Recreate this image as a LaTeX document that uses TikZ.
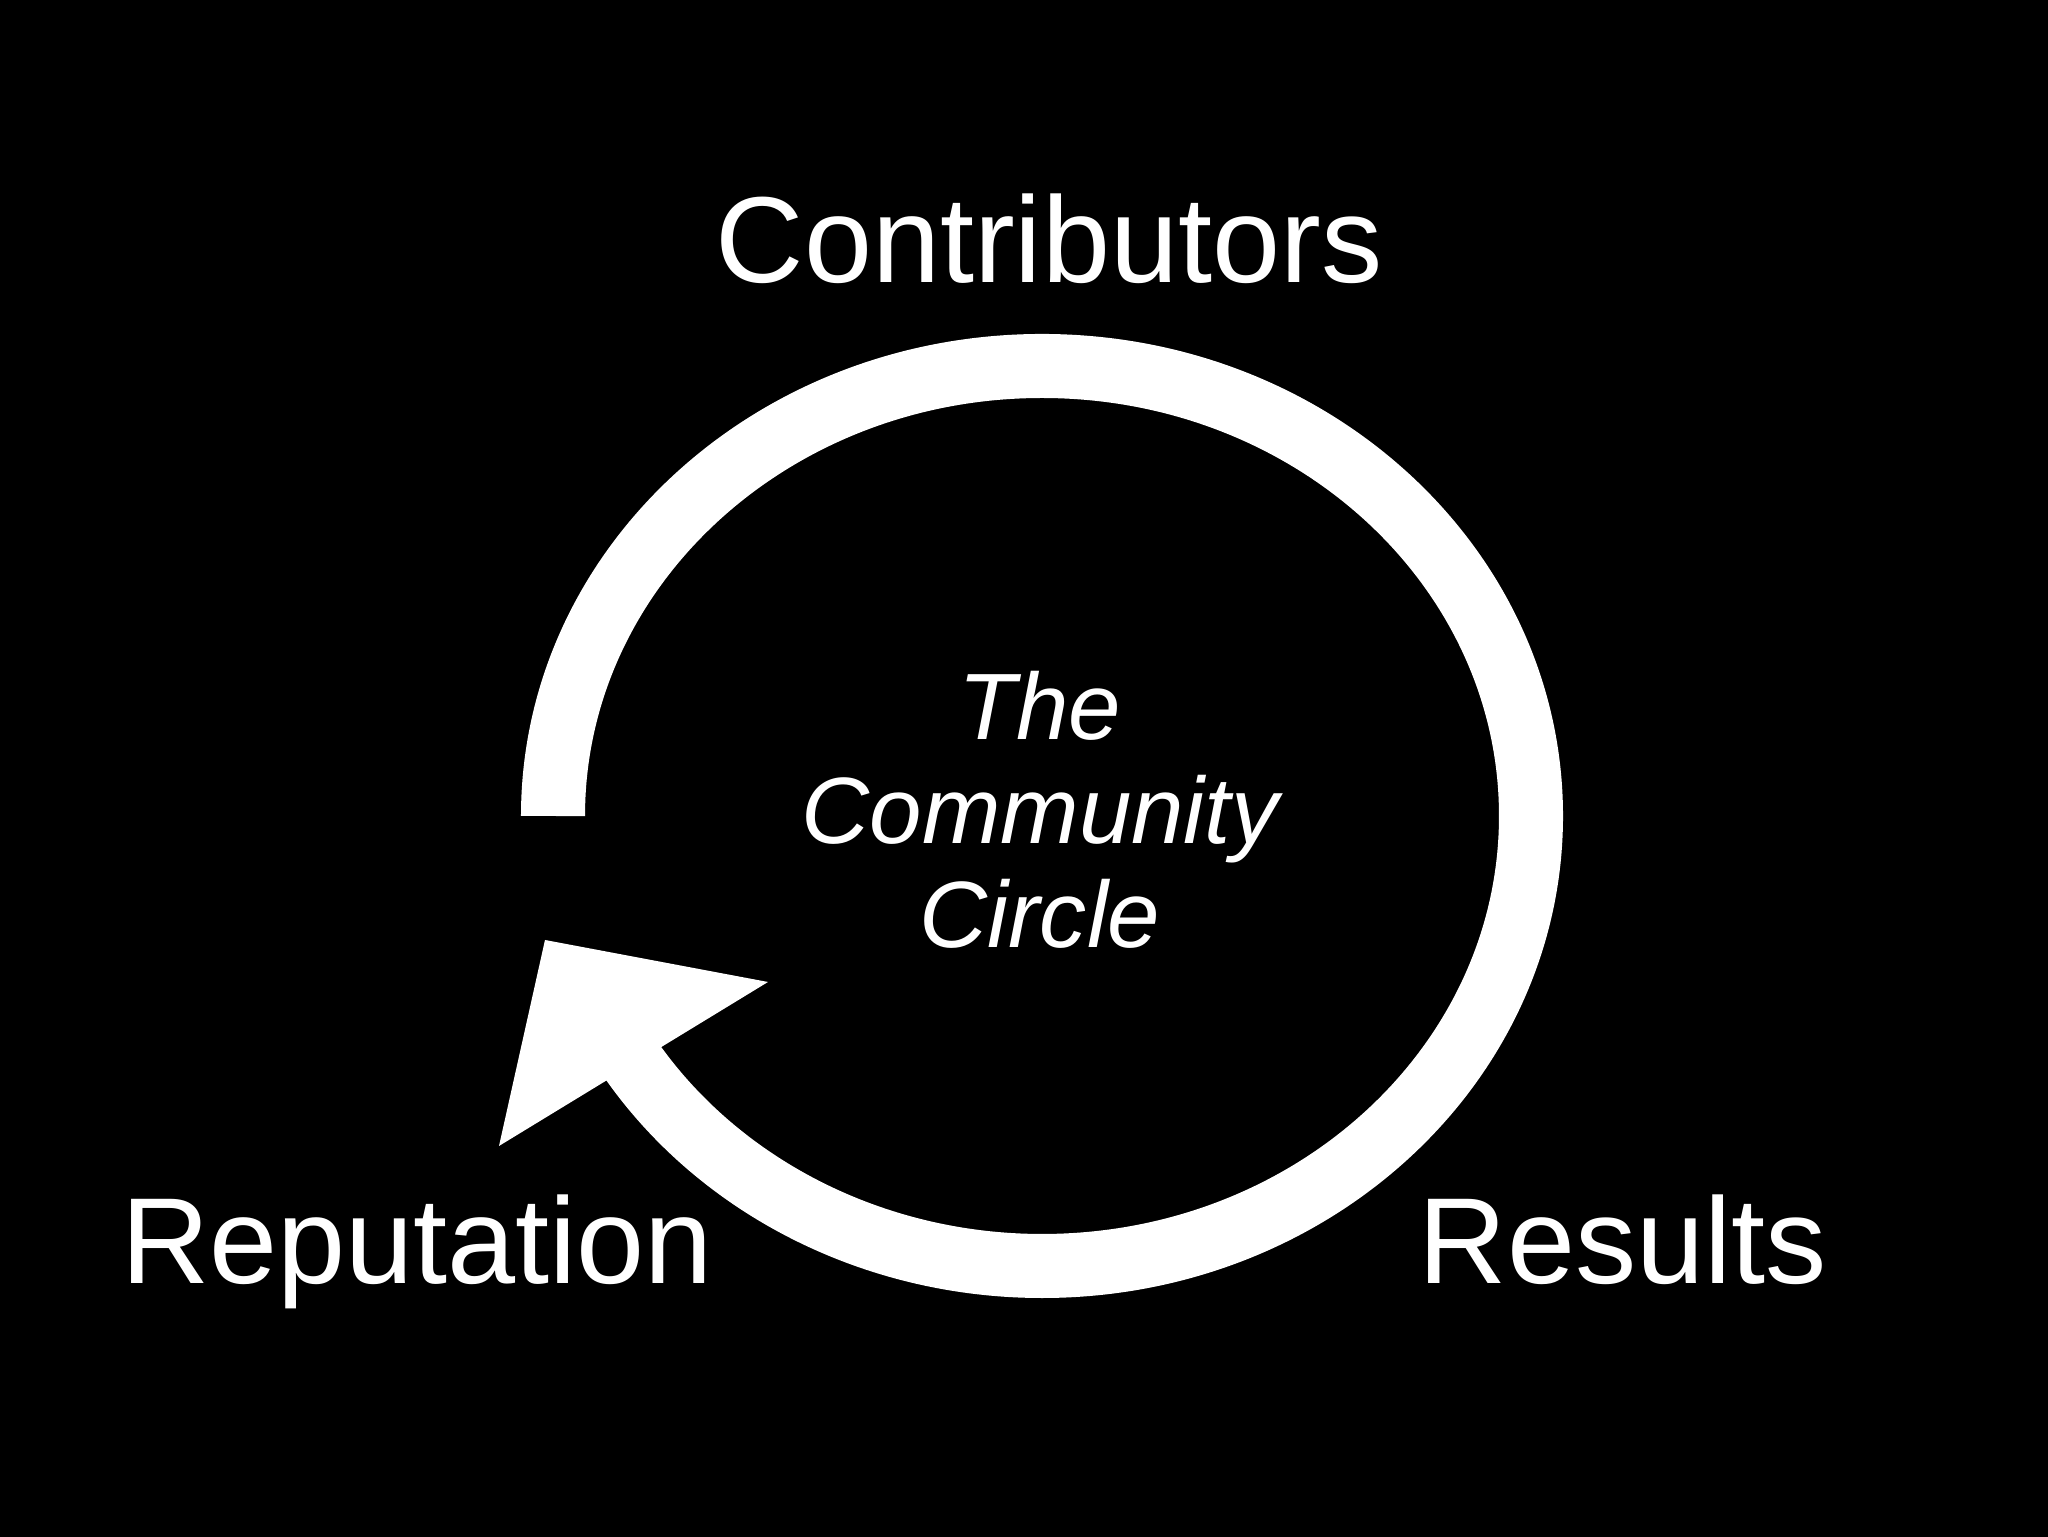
\documentclass[tikz,border=0pt]{standalone}
\usepackage{fontspec}
\setmainfont{Liberation Sans}
\usetikzlibrary{arrows.meta,positioning,calc}

\begin{document}
\begin{tikzpicture}[
    x=0.01cm, y=0.01cm,
    word/.style={text=white, inner sep=0pt, anchor=base, font=\fontsize{34.8}{40}\selectfont},
    mid/.style={text=white, inner sep=0pt, align=center, font=\fontsize{26.8}{29.7}\selectfont\itshape},
    loop/.style={draw=white, line width=0.64cm, line cap=butt},
]
% black page
\fill[black] (0,0) rectangle (2048,1537);
\useasboundingbox (0,0) rectangle (2048,1537);

\coordinate (c) at (1042,721);

% the circle arrow
\draw[loop] ($(c)+(-489,0)$) arc[start angle=180, end angle=-149, x radius=489, y radius=450];
\coordinate (headtip) at (545,597);
\coordinate (headr)   at (768,555);
\coordinate (headl)   at (499,391);
\fill[white] (headtip) -- (headr) -- (headl) -- cycle;

% labels
\node[word] (contrib) at (1049,1254) {Contributors};
\node[word] (reput)   at (417,253)   {Reputation};
\node[word] (results) at (1623,253)  {Results};
\node[mid, anchor=base] (circ) at (1040,589) {The\\Community\\Circle};
\end{tikzpicture}
\end{document}
